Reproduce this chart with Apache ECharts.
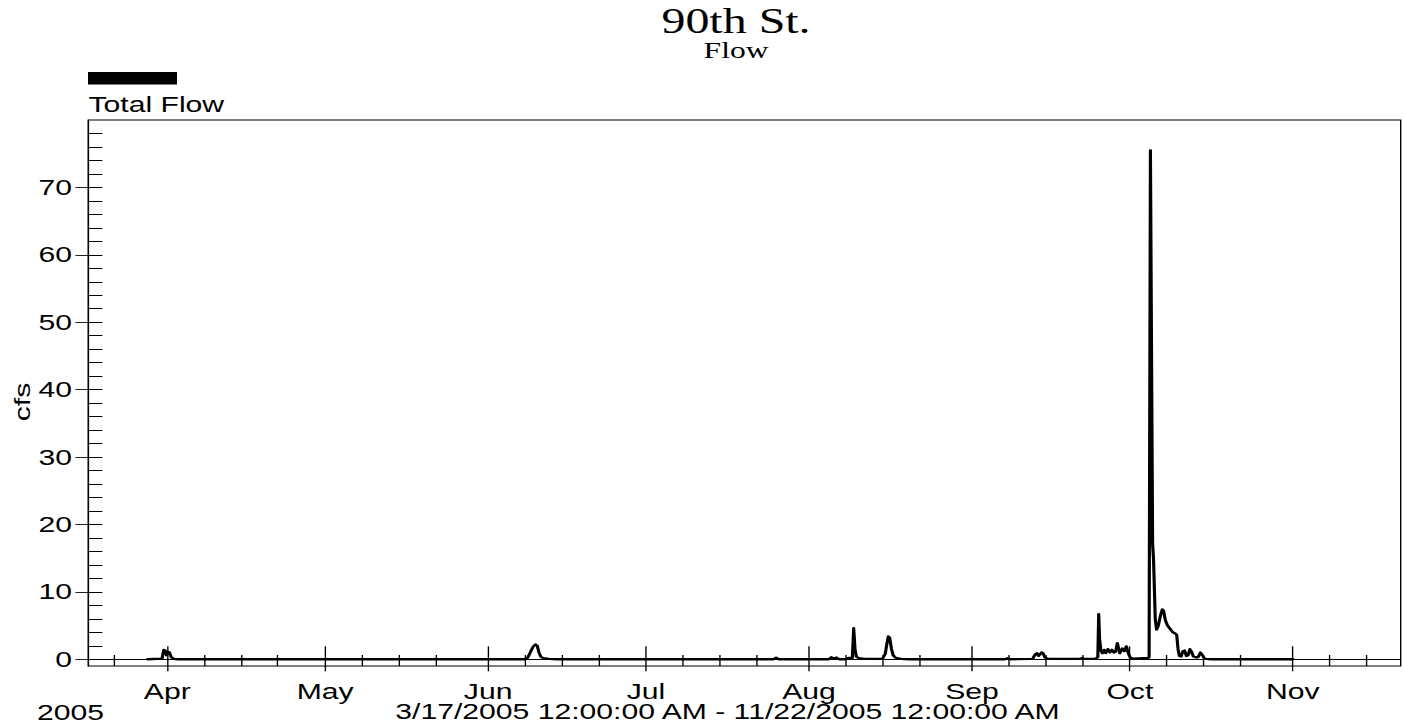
<!DOCTYPE html>
<html>
<head>
<meta charset="utf-8">
<script src="https://cdn.jsdelivr.net/npm/echarts@6/dist/echarts.min.js"></script>
<style>
html,body{margin:0;padding:0;background:#fff;overflow:hidden;width:1403px;height:726px;}
#c{position:absolute;left:0;top:0;height:726px;transform-origin:0 0;}
</style>
</head>
<body>
<div id="c"></div>
<script>
// ---- data ----
const times = [
'2005-03-28 06:00','2005-03-31 00:00','2005-03-31 08:00','2005-03-31 14:00','2005-03-31 20:00',
'2005-04-01 04:00','2005-04-01 10:00','2005-04-01 18:00','2005-04-02 06:00','2005-04-03 00:00',
'2005-06-08 00:00','2005-06-08 12:00','2005-06-09 00:00','2005-06-09 12:00','2005-06-10 00:00',
'2005-06-10 08:00','2005-06-10 16:00','2005-06-11 00:00','2005-06-11 12:00','2005-06-12 12:00',
'2005-06-14 00:00','2005-07-25 06:00','2005-07-25 18:00','2005-07-26 06:00','2005-08-04 18:00',
'2005-08-05 06:00','2005-08-05 18:00','2005-08-06 06:00','2005-08-06 18:00','2005-08-08 00:00',
'2005-08-08 12:00','2005-08-09 06:00','2005-08-09 12:00','2005-08-09 18:00','2005-08-10 00:00',
'2005-08-10 12:00','2005-08-11 12:00','2005-08-15 00:00','2005-08-15 12:00','2005-08-15 20:00',
'2005-08-16 02:00','2005-08-16 08:00','2005-08-16 16:00','2005-08-17 00:00','2005-08-17 12:00',
'2005-08-18 12:00','2005-08-20 00:00','2005-09-07 06:00','2005-09-07 18:00','2005-09-08 06:00',
'2005-09-12 12:00','2005-09-13 00:00','2005-09-13 08:00','2005-09-13 16:00','2005-09-14 00:00',
'2005-09-14 06:00','2005-09-14 12:00','2005-09-14 20:00','2005-09-15 08:00','2005-09-16 00:00',
'2005-09-21 12:00','2005-09-21 22:00','2005-09-22 08:00','2005-09-24 12:00','2005-09-24 22:00',
'2005-09-25 02:00','2005-09-25 06:00','2005-09-25 12:00','2005-09-25 19:00','2005-09-26 03:00',
'2005-09-26 10:00','2005-09-26 20:00','2005-09-27 05:00','2005-09-27 14:00','2005-09-27 23:00',
'2005-09-28 07:00','2005-09-28 15:00','2005-09-29 02:00','2005-09-29 14:00','2005-09-29 23:00',
'2005-09-30 08:00','2005-09-30 18:00','2005-10-01 03:00','2005-10-01 16:00','2005-10-04 12:00',
'2005-10-04 16:00','2005-10-04 22:00','2005-10-05 04:00','2005-10-05 08:00','2005-10-05 12:00',
'2005-10-05 20:00','2005-10-06 02:00','2005-10-06 10:00','2005-10-06 20:00','2005-10-07 04:00',
'2005-10-07 10:00','2005-10-07 18:00','2005-10-08 04:00','2005-10-08 16:00','2005-10-09 04:00',
'2005-10-09 16:00','2005-10-09 22:00','2005-10-10 04:00','2005-10-10 10:00','2005-10-10 18:00',
'2005-10-11 02:00','2005-10-11 10:00','2005-10-11 18:00','2005-10-12 02:00','2005-10-12 10:00',
'2005-10-12 18:00','2005-10-13 02:00','2005-10-13 12:00','2005-10-14 00:00','2005-10-14 10:00',
'2005-10-14 18:00','2005-10-15 02:00','2005-10-15 12:00','2005-10-16 12:00','2005-11-01 00:00'
];
const flow = [
0,0.1,1.4,1.3,0.6,
1.1,1.0,0.3,0.05,0,
0,0.2,1.0,1.8,2.2,
2.0,1.0,0.4,0.15,0.05,
0,0,0.25,0,0,
0.3,0.1,0.25,0,0,
0.2,0.2,4.6,1.5,0.4,
0.15,0.05,0.1,0.8,2.4,
3.4,3.2,1.6,0.6,0.2,
0.05,0,0,0.15,0,
0.05,0.7,0.9,0.5,0.8,
1.0,0.9,0.3,0.1,0.05,
0.05,0.2,0.05,0.1,0.3,
6.7,3.0,1.3,0.9,1.4,
0.9,1.5,1.0,1.4,1.0,
1.1,2.4,0.9,1.6,1.2,
1.9,0.8,0.2,0.1,0.2,
0.3,75.5,40,17,15,
6,4.4,5.0,6.5,7.4,
7.2,5.8,5.0,4.5,4.0,
3.8,3.6,1.5,0.5,0.4,
1.2,1.3,0.5,0.6,1.5,
1.1,0.4,0.3,0.3,1.0,
0.7,0.2,0.05,0,0
];
const monthTicks = ['2005-04-01','2005-05-01','2005-06-01','2005-07-01','2005-08-01','2005-09-01','2005-10-01','2005-11-01'];
const monthLabels = ['Apr','May','Jun','Jul','Aug','Sep','Oct','Nov'];
const weekTicks = ['2005-03-22',
'2005-04-08','2005-04-15','2005-04-22','2005-05-08','2005-05-15','2005-05-22',
'2005-06-08','2005-06-15','2005-06-22','2005-07-08','2005-07-15','2005-07-22',
'2005-08-08','2005-08-15','2005-08-22','2005-09-08','2005-09-15','2005-09-22',
'2005-10-08','2005-10-15','2005-10-22','2005-11-08','2005-11-15'];
const yMajor = [0,10,20,30,40,50,60,70];
const yMinor = [0,2,4,6,8,10,12,14,16,18,20,22,24,26,28,30,32,34,36,38,40,42,44,46,48,50,52,54,56,58,60,62,64,66,68,70,72,74,76,78];
const titleText = '90th St.';
const subText = 'Flow';
const seriesName = 'Total Flow';
const yearText = '2005';
const rangeText = '3/17/2005 12:00:00 AM - 11/22/2005 12:00:00 AM';
const axisMin = '2005-03-17 00:00';
const axisMax = '2005-11-21 12:00';

// ---- helpers ----
function ts(s){
  const p = s.split(' ');
  const d = p[0].split('-').map(Number);
  const t = (p[1] || '00:00').split(':').map(Number);
  return new Date(d[0], d[1]-1, d[2], t[0], t[1]).getTime();
}
const S = 1.37;              // horizontal stretch of the original rendering
const W = 1403 / S, H = 726;
const el = document.getElementById('c');
el.style.width = W + 'px';
el.style.transform = 'scaleX(' + S + ')';

const monthTs = monthTicks.map(ts);
const weekTs = weekTicks.map(ts);
const FONT = '"Liberation Sans", Arial, sans-serif';
const SERIF = '"Liberation Serif", "Times New Roman", serif';

const chart = echarts.init(el, null, {renderer: 'svg', width: W, height: H});
const xBase = {type: 'value', min: ts(axisMin), max: ts(axisMax), position: 'bottom', gridIndex: 0,
  splitLine: {show: false}, minorTick: {show: false}, minorSplitLine: {show: false}};
const yBase = {type: 'value', min: -1, max: 80, position: 'left', gridIndex: 0,
  splitLine: {show: false}, minorTick: {show: false}};

chart.setOption({
  backgroundColor: '#fff',
  animation: false,
  textStyle: {fontFamily: FONT, color: '#000'},
  grid: {left: 88.4 / S, right: W - 1400.7 / S, top: 120, bottom: 60, show: true,
    borderColor: '#000', borderWidth: 1, backgroundColor: 'transparent', containLabel: false},
  legend: {show: true, left: 88 / S, top: 72, itemWidth: 89 / S, itemHeight: 12.6, icon: 'rect',
    padding: 0, itemGap: 0, selectedMode: false, data: [seriesName], formatter: function(){ return ''; },
    textStyle: {fontSize: 1}},
  xAxis: [
    Object.assign({}, xBase, {
      axisLine: {show: true, lineStyle: {color: '#000', width: 1}},
      axisTick: {show: true, inside: false, length: 12, customValues: monthTs, lineStyle: {color: '#000', width: 1}},
      axisLabel: {show: true, customValues: monthTs, margin: 14, color: '#000', fontSize: 22, fontFamily: FONT,
        formatter: function(v){
          let best = 0, bd = Infinity;
          monthTs.forEach(function(m, i){ const dd = Math.abs(m - v); if (dd < bd) { bd = dd; best = i; } });
          return monthLabels[best];
        }}
    }),
    Object.assign({}, xBase, {
      axisLine: {show: false},
      axisTick: {show: true, inside: true, length: 13, customValues: monthTs, lineStyle: {color: '#000', width: 1}},
      axisLabel: {show: false}
    }),
    Object.assign({}, xBase, {
      axisLine: {show: false},
      axisTick: {show: true, inside: true, length: 11, customValues: weekTs, lineStyle: {color: '#000', width: 1}},
      axisLabel: {show: false}
    })
  ],
  yAxis: [
    Object.assign({}, yBase, {
      axisLine: {show: true, lineStyle: {color: '#000', width: 1}},
      axisTick: {show: true, inside: true, length: 14 / S, customValues: yMinor, lineStyle: {color: '#000', width: 1}},
      axisLabel: {show: false}
    }),
    Object.assign({}, yBase, {
      axisLine: {show: false},
      axisTick: {show: true, inside: false, length: 13 / S, customValues: yMajor, lineStyle: {color: '#222', width: 1}},
      axisLabel: {show: true, customValues: yMajor, margin: 12, color: '#000', fontSize: 22, fontFamily: FONT}
    })
  ],
  graphic: [
    {type: 'text', x: 736 / S, y: 21.7, silent: true,
      style: {text: titleText, font: '35px ' + SERIF, fill: '#000', align: 'center', textAlign: 'center', verticalAlign: 'middle', textVerticalAlign: 'middle'}},
    {type: 'text', x: 736 / S, y: 50.5, silent: true,
      style: {text: subText, font: '23px ' + SERIF, fill: '#000', align: 'center', textAlign: 'center', verticalAlign: 'middle', textVerticalAlign: 'middle'}},
    {type: 'text', x: 88.5 / S, y: 104, silent: true,
      style: {text: seriesName, font: '22px ' + FONT, fill: '#000', align: 'left', textAlign: 'left', verticalAlign: 'middle', textVerticalAlign: 'middle'}},
    {type: 'text', x: 22.5 / S, y: 402, rotation: Math.PI / 2, scaleX: S, scaleY: 1 / S, silent: true,
      style: {text: 'cfs', font: '22px ' + FONT, fill: '#000', align: 'center', textAlign: 'center', verticalAlign: 'middle', textVerticalAlign: 'middle'}},
    {type: 'text', x: 37 / S, y: 712, silent: true,
      style: {text: yearText, font: '22px ' + FONT, fill: '#000', align: 'left', textAlign: 'left', verticalAlign: 'middle', textVerticalAlign: 'middle'}},
    {type: 'text', x: 727.5 / S, y: 711, silent: true,
      style: {text: rangeText, font: '22px ' + FONT, fill: '#000', align: 'center', textAlign: 'center', verticalAlign: 'middle', textVerticalAlign: 'middle'}}
  ],
  series: [{
    type: 'line', name: seriesName, xAxisIndex: 0, yAxisIndex: 0,
    data: times.map(function(t, i){ return [ts(t), flow[i]]; }),
    showSymbol: false, symbol: 'none', silent: true,
    color: '#000', itemStyle: {color: '#000'},
    lineStyle: {color: '#000', width: 2.3, join: 'round', cap: 'round'}
  }]
});
</script>
</body>
</html>
